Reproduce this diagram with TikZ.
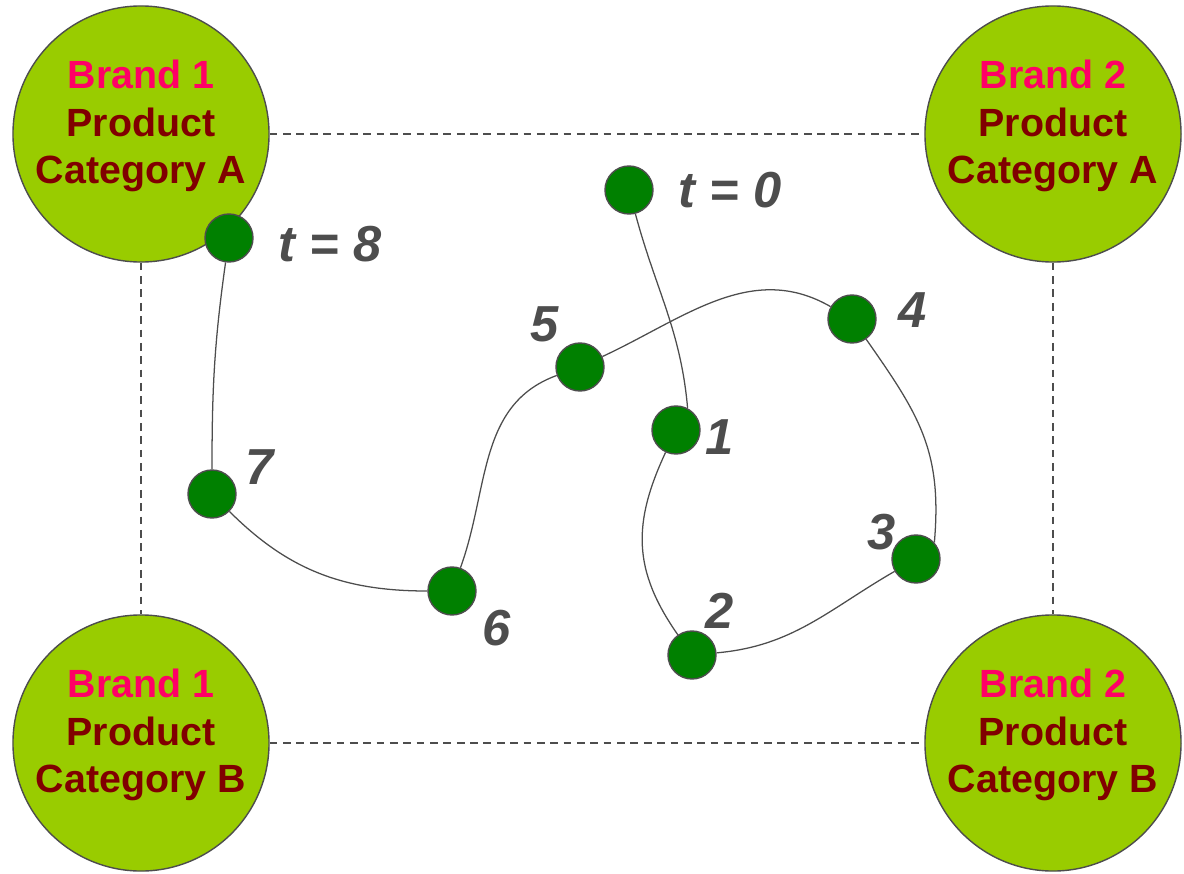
\documentclass[tikz,border=0pt]{standalone}
\usepackage{fontspec}
\setmainfont{Liberation Sans}
\usepackage{tikz}
\usetikzlibrary{positioning, calc}
\definecolor{limegreen}{HTML}{99CC00}
\definecolor{dotgreen}{HTML}{008000}
\definecolor{brandpink}{HTML}{FF0066}
\definecolor{catred}{HTML}{800000}
\definecolor{edgegray}{HTML}{4D4D4D}
\tikzset{
    brandcircle/.style={circle, draw=edgegray, line width=1pt, fill=limegreen, minimum size=6.4cm, inner sep=0pt},
    brandtext/.style={align=center, font=\fontsize{28}{34}\selectfont\bfseries, text=catred},
    stepdot/.style={circle, draw=edgegray, line width=1pt, fill=dotgreen, minimum size=1.2cm, inner sep=0pt},
    steplabel/.style={font=\fontsize{36}{40}\selectfont\bfseries\itshape, text=edgegray, inner sep=0pt},
    dashline/.style={dash pattern=on 5.5pt off 4pt, color=edgegray, line width=0.9pt},
    pathline/.style={line width=0.9pt, color=edgegray}
}
\newcommand{\brandlabel}[2]{\textcolor{brandpink}{Brand #1}\\Product\\Category #2}

\begin{document}
\begin{tikzpicture}[x=0.025cm, y=-0.025cm]
    \useasboundingbox (0,0) rectangle (1184,874);
    % Nodes
    \node (b1a) [brandcircle] at (141,134) {};
    \node (b2a) [brandcircle] at (1053,134) {};
    \node (b1b) [brandcircle] at (141,743) {};
    \node (b2b) [brandcircle] at (1053,743) {};
    \node [brandtext] at ([yshift=0.2cm]b1a.center) {\brandlabel{1}{A}};
    \node [brandtext] at ([yshift=0.2cm]b2a.center) {\brandlabel{2}{A}};
    \node [brandtext] at ([yshift=0.2cm]b1b.center) {\brandlabel{1}{B}};
    \node [brandtext] at ([yshift=0.2cm]b2b.center) {\brandlabel{2}{B}};

    \node (t0) [stepdot] at (629,190) {};
    \node (s1) [stepdot] at (676,430) {};
    \node (s2) [stepdot] at (692,655) {};
    \node (s3) [stepdot] at (916,559) {};
    \node (s4) [stepdot] at (852,319) {};
    \node (s5) [stepdot] at (580,367) {};
    \node (s6) [stepdot] at (452,591) {};
    \node (s7) [stepdot] at (212,494) {};
    \node (t8) [stepdot] at (229,238) {};

    \node (lt0) [steplabel] at ([shift={(101,0)}]t0) {t = 0};
    \node (l1) [steplabel] at ([shift={(44,7)}]s1) {1};
    \node (l2) [steplabel] at ([shift={(28,-44)}]s2) {2};
    \node (l3) [steplabel] at ([shift={(-34,-27)}]s3) {3};
    \node (l4) [steplabel] at ([shift={(61,-9)}]s4) {4};
    \node (l5) [steplabel] at ([shift={(-35,-43)}]s5) {5};
    \node (l6) [steplabel] at ([shift={(45,37)}]s6) {6};
    \node (l7) [steplabel] at ([shift={(48,-27)}]s7) {7};
    \node (lt8) [steplabel] at ([shift={(101,6)}]t8) {t = 8};

    % Dashed frame
    \draw [dashline] (b1a) -- (b2a);
    \draw [dashline] (b1b) -- (b2b);
    \draw [dashline] (b1a) -- (b1b);
    \draw [dashline] (b2a) -- (b2b);

    % Path
    \draw [pathline] (t0) to[out=-75, in=95] (s1.62);
    \draw [pathline] (s1) to[out=-115, in=125, looseness=1.1] (s2);
    \draw [pathline] (s2) to[out=5, in=-150] (s3);
    \draw [pathline] (s3.42) to[out=85, in=-55, looseness=1.1] (s4);
    \draw [pathline] (s4) to[out=150, in=25] (s5);
    \draw [pathline] (s5) to[out=200, in=70] (s6);
    \draw [pathline] (s6) to[out=180, in=-45] (s7);
    \draw [pathline] (s7) to[out=90, in=-98] (t8);
\end{tikzpicture}
\end{document}
